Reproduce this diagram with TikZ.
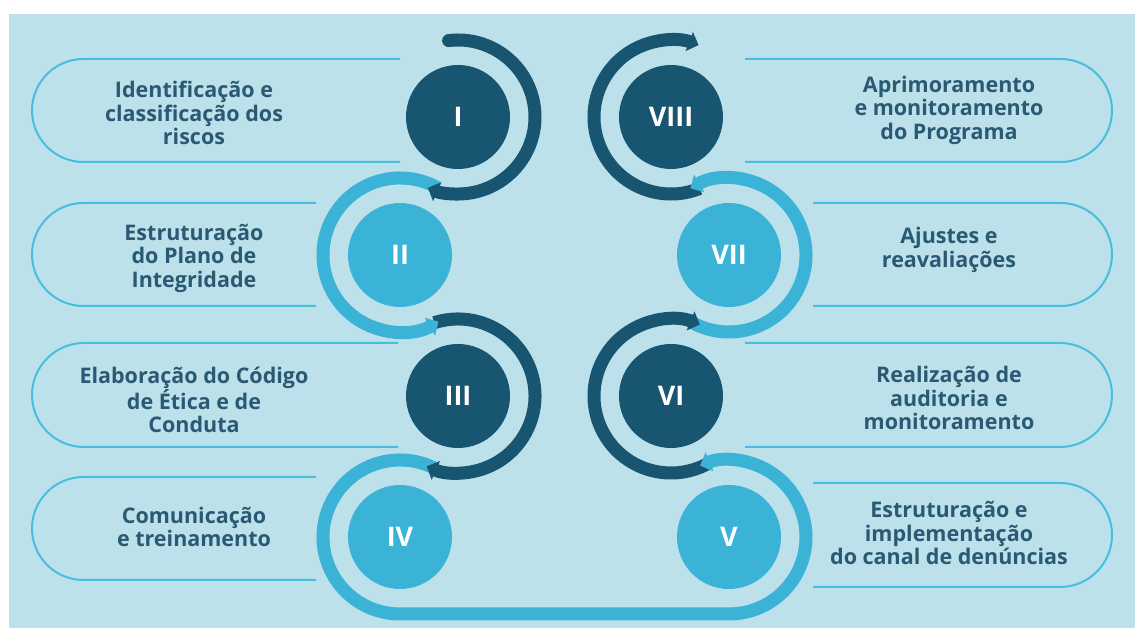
\documentclass[tikz,border=0pt]{standalone}
\usepackage{fontspec}
\setmainfont{Open Sans}
\usetikzlibrary{arrows.meta,calc}
\definecolor{fundo}{HTML}{BDE1EB}
\definecolor{escuro}{HTML}{175570}
\definecolor{claro}{HTML}{3AB3D7}
\definecolor{contorno}{HTML}{45BFDD}
\definecolor{texto}{HTML}{2A5A73}
\tikzset{
  etapa/.style={circle, minimum size=104pt, inner sep=0pt, text=white,
    font=\bfseries\fontsize{27}{27}\selectfont},
  rotulo/.style={align=center, text=texto,
    font=\bfseries\fontsize{21.5}{23.5}\selectfont},
  pilula/.style={draw=contorno, line width=2pt},
  fluxo/.style={line width=13pt, -{Triangle[width=20pt,length=10pt]}},
}
\begin{document}
\begin{tikzpicture}[x=1pt,y=1pt]
  \useasboundingbox (0,0) rectangle (1135,628);
  \fill[fundo] (9,0) rectangle (1135,614);
  % pilulas da esquerda
  \draw[pilula] (400,569) -- (83.5,569) arc[start angle=90,end angle=270,radius=51.5pt] -- (400,466);
  \draw[pilula] (316,425) -- (83.5,425) arc[start angle=90,end angle=270,radius=51.5pt] -- (316,322);
  \draw[pilula] (398,285) -- (84,285) arc[start angle=90,end angle=270,radius=52pt] -- (398,181);
  \draw[pilula] (316,151) -- (83.5,151) arc[start angle=90,end angle=270,radius=51.5pt] -- (316,48);
  % pilulas da direita
  \draw[pilula] (745,569) -- (1060.5,569) arc[start angle=90,end angle=-90,radius=51.5pt] -- (745,466);
  \draw[pilula] (813,425) -- (1060.5,425) arc[start angle=90,end angle=-90,radius=51.5pt] -- (813,322);
  \draw[pilula] (745,285) -- (1060,285) arc[start angle=90,end angle=-90,radius=52pt] -- (745,181);
  \draw[pilula] (813,145) -- (1060,145) arc[start angle=90,end angle=-90,radius=52pt] -- (813,41);
  % etapas
  \node[etapa, fill=escuro] (e1) at (458,511) {I};
  \node[etapa, fill=claro] (e2) at (400,373) {II};
  \node[etapa, fill=escuro] (e3) at (458,232) {III};
  \node[etapa, fill=claro] (e4) at (400,91) {IV};
  \node[etapa, fill=claro] (e5) at (729,91) {V};
  \node[etapa, fill=escuro] (e6) at (671,232) {VI};
  \node[etapa, fill=claro] (e7) at (729,373) {VII};
  \node[etapa, fill=escuro] (e8) at (671,511) {VIII};
  % textos
  \node[rotulo] (t1) at (194,515) {Identificação e\\classificação dos\\riscos};
  \node[rotulo] (t2) at (194,370) {Estruturação\\do Plano de\\Integridade};
  \node[rotulo] (t3) at (194,228) {Elaboração do Código\\de Ética e de\\Conduta};
  \node[rotulo] (t4) at (194,101) {Comunicação\\e treinamento};
  \node[rotulo] (t5) at (949,95) {Estruturação e\\implementação\\do canal de denúncias};
  \node[rotulo] (t6) at (949,230) {Realização de\\auditoria e\\monitoramento};
  \node[rotulo] (t7) at (949,378) {Ajustes e\\reavaliações};
  \node[rotulo] (t8) at (949,518) {Aprimoramento\\e monitoramento\\do Programa};
  % setas em volta das etapas
  \draw[fluxo, escuro] ([shift={(-68:77pt)}]e8.center) arc[start angle=-68,end angle=-291,radius=77pt];
  \draw[fluxo, claro] ([shift={(-120:77pt)}]e7.center) arc[start angle=-120,end angle=120,radius=77pt];
  \draw[fluxo, escuro] ([shift={(-60:77pt)}]e6.center) arc[start angle=-60,end angle=-292,radius=77pt];
  \draw[fluxo, claro] ([shift={(62:77pt)}]e4.center) arc[start angle=62,end angle=270,radius=77pt]
    -- ([shift={(270:77pt)}]e5.center) arc[start angle=270,end angle=472,radius=77pt];
  \draw[fluxo, escuro] ([shift={(108:77pt)}]e3.center) arc[start angle=108,end angle=-114,radius=77pt];
  \draw[fluxo, claro] ([shift={(60:77pt)}]e2.center) arc[start angle=60,end angle=300,radius=77pt];
  \draw[fluxo, escuro, line cap=round] ([shift={(97:77pt)}]e1.center) arc[start angle=97,end angle=-113,radius=77pt];
\end{tikzpicture}
\end{document}
